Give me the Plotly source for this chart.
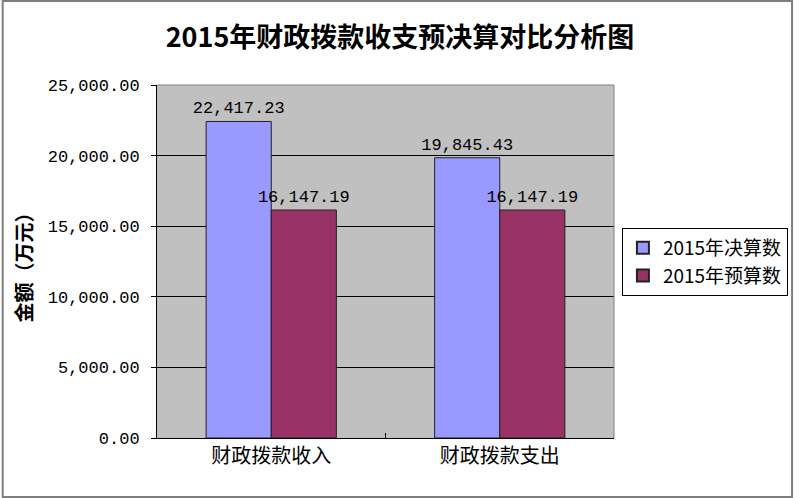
import plotly.graph_objects as go

categories = ["财政拨款收入", "财政拨款支出"]
final_2015 = [22417.23, 19845.43]
budget_2015 = [16147.19, 16147.19]
series_names = ["2015年决算数", "2015年预算数"]
title_text = "2015年财政拨款收支预决算对比分析图"
y_title = "金额（万元）"

W, H = 800, 498
L, R, T, B = 157, 181, 85, 60
PW, PH = W - L - R, H - T - B

def px_x(x):
    return (x - L) / PW

def px_y(y):
    return (H - y - B) / PH

num_font = "Liberation Mono, Noto Sans CJK SC"
cjk_font = "Noto Sans CJK SC"

fig = go.Figure()
fig.add_trace(go.Bar(
    x=categories, y=final_2015, name=series_names[0],
    marker=dict(color="#9999FF", line=dict(color="#222222", width=1)),
    text=[f"{v:,.2f}" for v in final_2015], textposition="outside",
    constraintext="none",
    textfont=dict(family=num_font, size=17, color="black"), cliponaxis=False,
))
fig.add_trace(go.Bar(
    x=categories, y=budget_2015, name=series_names[1],
    marker=dict(color="#993366", line=dict(color="#222222", width=1)),
    text=[f"{v:,.2f}" for v in budget_2015], textposition="outside",
    constraintext="none",
    textfont=dict(family=num_font, size=17, color="black"), cliponaxis=False,
))

fig.update_layout(
    width=W, height=H,
    margin=dict(l=L, r=R, t=T, b=B),
    paper_bgcolor="white",
    plot_bgcolor="#C0C0C0",
    barmode="group",
    bargap=0.43,
    bargroupgap=0,
    title=dict(text="<b>" + title_text + "</b>", x=0.5, xanchor="center",
               y=1 - 38 / H, yanchor="middle",
               font=dict(family=cjk_font, size=27, color="black")),
    showlegend=True,
    legend=dict(x=px_x(627), xanchor="left", y=px_y(262), yanchor="middle",
                bgcolor="white", bordercolor="black", borderwidth=1,
                font=dict(family=cjk_font, size=19, color="black"),
                itemsizing="constant", tracegroupgap=0),
    xaxis=dict(showline=True, linecolor="black", linewidth=1,
               ticks="inside", tickson="boundaries", ticklen=5, tickcolor="black",
               tickfont=dict(family=cjk_font, size=20, color="black"),
               showgrid=False, mirror=False),
    yaxis=dict(range=[0, 25000], dtick=5000, tickformat=",.2f",
               showline=True, linecolor="black", linewidth=1,
               ticks="outside", ticklen=5, tickcolor="black",
               ticklabelstandoff=8,
               showgrid=True, gridcolor="black", gridwidth=1,
               tickfont=dict(family=num_font, size=17, color="black"),
               zeroline=False),
    annotations=[dict(text="<b>" + y_title + "</b>", xref="paper", yref="paper",
                      x=px_x(22), y=px_y(262), textangle=-90, showarrow=False,
                      xanchor="center", yanchor="middle",
                      font=dict(family=cjk_font, size=20, color="black"))],
    shapes=[
        dict(type="rect", xref="paper", yref="paper",
             x0=px_x(1), x1=px_x(799), y0=px_y(497), y1=px_y(1),
             line=dict(color="#7F7F7F", width=2), fillcolor="rgba(0,0,0,0)", layer="above"),
        dict(type="line", xref="paper", yref="paper", x0=0, x1=1, y0=1, y1=1,
             line=dict(color="#808080", width=1)),
        dict(type="line", xref="paper", yref="paper", x0=1, x1=1, y0=0, y1=1,
             line=dict(color="#808080", width=1)),
    ],
)

fig.write_html(
    "out.html",
    config={"displayModeBar": False},
    post_script="document.body.style.margin='0';document.body.style.overflow='hidden';"
                "document.documentElement.style.overflow='hidden';",
)
